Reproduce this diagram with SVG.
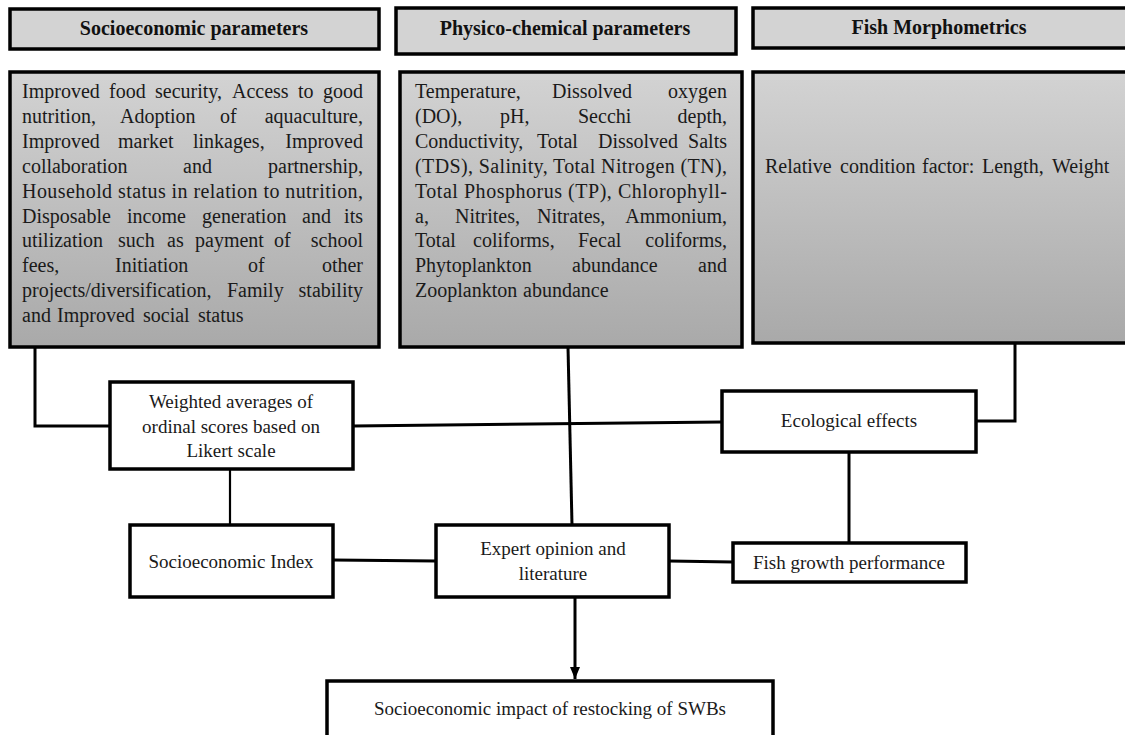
<svg xmlns="http://www.w3.org/2000/svg" width="1125" height="735" viewBox="0 0 1125 735">
<defs>
<linearGradient id="g" x1="0" y1="0" x2="0" y2="1">
<stop offset="0" stop-color="#d3d3d3"/>
<stop offset="1" stop-color="#a9a9a9"/>
</linearGradient>
<marker id="arr" markerWidth="12" markerHeight="10" refX="12" refY="5" orient="auto" markerUnits="userSpaceOnUse">
<path d="M0,0 L12,5 L0,10 Z" fill="#000"/>
</marker>
</defs>
<style>
.hdr{fill:#d3d3d3;stroke:#000;stroke-width:3.5}
.big{fill:url(#g);stroke:#000;stroke-width:3.5}
.box{fill:#fff;stroke:#000;stroke-width:3.5}
text{font-family:'Liberation Serif','Times New Roman',serif}
.h{font-weight:bold;font-size:20px;fill:#111;text-anchor:middle}
.t{font-size:20px;fill:#1a1a1a}
.n{font-size:19px;fill:#1a1a1a;text-anchor:middle}
.e{text-anchor:end}
.c{fill:none;stroke:#000;stroke-width:3}
</style>
<rect width="1125" height="735" fill="#fff"/>

<g id="connectors">
<polyline class="c" points="35,347 35,426 109,426"/>
<line class="c" x1="353" y1="426" x2="722" y2="422"/>
<line class="c" x1="568" y1="347" x2="572" y2="525"/>
<polyline class="c" points="1015,343 1015,421 976,421"/>
<line class="c" x1="230" y1="469" x2="230" y2="525" style="stroke-width:2.2"/>
<line class="c" x1="333" y1="560" x2="436" y2="561"/>
<line class="c" x1="669" y1="561" x2="733" y2="562"/>
<line class="c" x1="849" y1="452" x2="849" y2="543"/>
<line class="c" x1="575" y1="597" x2="575" y2="679" marker-end="url(#arr)"/>
</g>

<g id="hdr-socio">
<rect class="hdr" x="10" y="9" width="369" height="40"/>
<text class="h" x="194" y="35">Socioeconomic parameters</text>
</g>
<g id="hdr-physico">
<rect class="hdr" x="396" y="8" width="340" height="46"/>
<text class="h" x="565" y="35">Physico-chemical parameters</text>
</g>
<g id="hdr-fish">
<rect class="hdr" x="753" y="8" width="380" height="40"/>
<text class="h" x="939" y="34">Fish Morphometrics</text>
</g>

<g id="box-socio">
<rect class="big" x="10" y="72" width="369" height="275"/>
<text class="t" y="98"><tspan x="22">Improved</tspan><tspan x="109">food</tspan><tspan x="155">security,</tspan><tspan x="232">Access</tspan><tspan x="298">to</tspan><tspan x="363" class="e">good</tspan></text>
<text class="t" y="123"><tspan x="22">nutrition,</tspan><tspan x="120">Adoption</tspan><tspan x="220">of</tspan><tspan x="363" class="e">aquaculture,</tspan></text>
<text class="t" y="148"><tspan x="22">Improved</tspan><tspan x="118">market</tspan><tspan x="193">linkages,</tspan><tspan x="363" class="e">Improved</tspan></text>
<text class="t" y="173"><tspan x="22">collaboration</tspan><tspan x="183">and</tspan><tspan x="363" class="e">partnership,</tspan></text>
<text class="t" x="22" y="198" textLength="341" lengthAdjust="spacing">Household status in relation to nutrition,</text>
<text class="t" y="222.5"><tspan x="22">Disposable</tspan><tspan x="127">income</tspan><tspan x="202">generation</tspan><tspan x="302">and</tspan><tspan x="363" class="e">its</tspan></text>
<text class="t" y="247"><tspan x="22">utilization</tspan><tspan x="118">such</tspan><tspan x="167">as</tspan><tspan x="195">payment</tspan><tspan x="274">of</tspan><tspan x="363" class="e">school</tspan></text>
<text class="t" y="272"><tspan x="22">fees,</tspan><tspan x="115">Initiation</tspan><tspan x="248">of</tspan><tspan x="363" class="e">other</tspan></text>
<text class="t" y="297"><tspan x="22">projects/diversification,</tspan><tspan x="227">Family</tspan><tspan x="363" class="e">stability</tspan></text>
<text class="t" y="322"><tspan x="22">and</tspan><tspan x="57">Improved</tspan><tspan x="143">social</tspan><tspan x="198">status</tspan></text>
</g>

<g id="box-physico">
<rect class="big" x="400" y="72" width="342" height="275"/>
<text class="t" y="98"><tspan x="415">Temperature,</tspan><tspan x="552">Dissolved</tspan><tspan x="727" class="e">oxygen</tspan></text>
<text class="t" y="123"><tspan x="415">(DO),</tspan><tspan x="500">pH,</tspan><tspan x="578">Secchi</tspan><tspan x="727" class="e">depth,</tspan></text>
<text class="t" y="148"><tspan x="415">Conductivity,</tspan><tspan x="537">Total</tspan><tspan x="598">Dissolved</tspan><tspan x="727" class="e">Salts</tspan></text>
<text class="t" x="415" y="173" textLength="312" lengthAdjust="spacing">(TDS), Salinity, Total Nitrogen (TN),</text>
<text class="t" x="415" y="198" textLength="312" lengthAdjust="spacing">Total Phosphorus (TP), Chlorophyll-</text>
<text class="t" y="222.5"><tspan x="415">a,</tspan><tspan x="455">Nitrites,</tspan><tspan x="537">Nitrates,</tspan><tspan x="727" class="e">Ammonium,</tspan></text>
<text class="t" y="247"><tspan x="415">Total</tspan><tspan x="473">coliforms,</tspan><tspan x="578">Fecal</tspan><tspan x="727" class="e">coliforms,</tspan></text>
<text class="t" y="272"><tspan x="415">Phytoplankton</tspan><tspan x="572">abundance</tspan><tspan x="727" class="e">and</tspan></text>
<text class="t" y="297"><tspan x="415">Zooplankton</tspan><tspan x="523">abundance</tspan></text>
</g>

<g id="box-fish">
<rect class="big" x="753" y="72" width="380" height="271"/>
<text class="t" y="173"><tspan x="765">Relative</tspan><tspan x="840">condition</tspan><tspan x="922">factor:</tspan><tspan x="982">Length,</tspan><tspan x="1052">Weight</tspan></text>
</g>

<g id="weighted">
<rect class="box" x="110" y="382" width="243" height="87"/>
<text class="n" x="231" y="408">Weighted averages of</text>
<text class="n" x="231" y="433">ordinal scores based on</text>
<text class="n" x="231" y="457">Likert scale</text>
</g>

<g id="ecological">
<rect class="box" x="722" y="391" width="254" height="61"/>
<text class="n" x="849" y="427">Ecological effects</text>
</g>

<g id="socio-index">
<rect class="box" x="130" y="525" width="203" height="72"/>
<text class="n" x="231" y="568">Socioeconomic Index</text>
</g>

<g id="expert">
<rect class="box" x="436" y="525" width="233" height="72"/>
<text class="n" x="553" y="555">Expert opinion and</text>
<text class="n" x="553" y="580">literature</text>
</g>

<g id="fish-growth">
<rect class="box" x="733" y="543" width="233" height="39"/>
<text class="n" x="849" y="569">Fish growth performance</text>
</g>

<g id="impact">
<rect class="box" x="327" y="681" width="446" height="70"/>
<text class="n" x="550" y="715">Socioeconomic impact of restocking of SWBs</text>
</g>
</svg>
